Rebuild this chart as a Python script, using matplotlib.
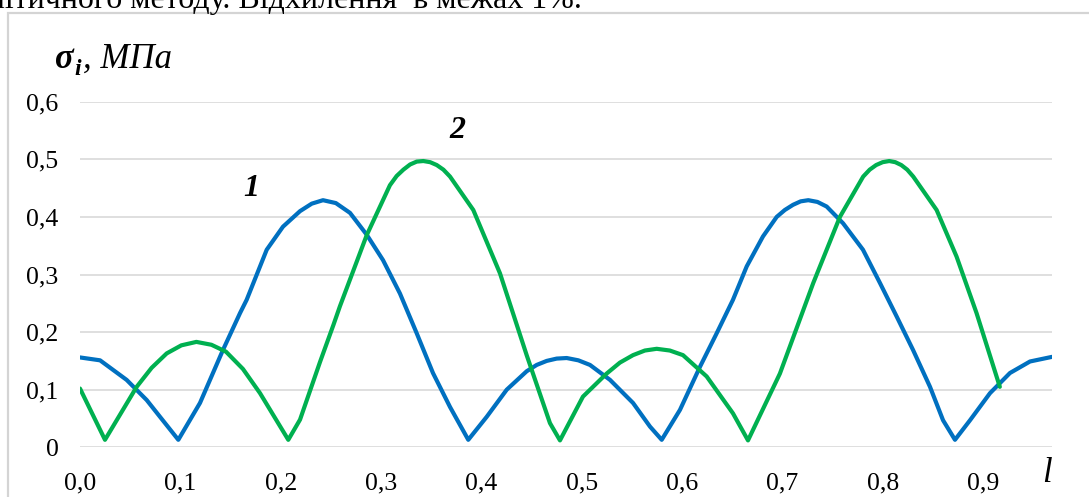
"""
Stress intensity sigma_i along the length l for two cases (1 and 2).
Excel-like line chart redrawn with matplotlib.
"""

# Import necessary libraries
import matplotlib.pyplot as plt  # Matplotlib for plotting
from matplotlib.patches import Rectangle

# Curve 1 (blue) - position l and stress, MPa
l_1 = [0.0, 0.020, 0.0465, 0.0665, 0.0797, 0.098, 0.1196, 0.1425, 0.1595, 0.1661,
       0.1861, 0.2023, 0.2193, 0.231, 0.2422, 0.255, 0.2691, 0.2858, 0.302, 0.3189,
       0.3356, 0.3518, 0.3688, 0.387, 0.4054, 0.4253, 0.4452, 0.4552, 0.4652, 0.4751,
       0.4851, 0.4967, 0.5083, 0.5283, 0.5512, 0.5681, 0.5798, 0.598, 0.618, 0.6346,
       0.6508, 0.6645, 0.6807, 0.6944, 0.7025, 0.7107, 0.7183, 0.7259, 0.735, 0.7442,
       0.7605, 0.7804, 0.7974, 0.814, 0.8303, 0.8472, 0.8602, 0.8721, 0.8871, 0.907,
       0.9269, 0.9469, 0.9688]
sigma_1 = [0.156, 0.151, 0.117, 0.082, 0.053, 0.013, 0.077, 0.169, 0.233, 0.256,
           0.343, 0.383, 0.410, 0.423, 0.429, 0.424, 0.407, 0.369, 0.325, 0.267,
           0.198, 0.129, 0.070, 0.013, 0.053, 0.100, 0.132, 0.143, 0.150, 0.154,
           0.155, 0.151, 0.143, 0.117, 0.077, 0.036, 0.013, 0.065, 0.140, 0.198,
           0.256, 0.314, 0.366, 0.400, 0.412, 0.421, 0.427, 0.429, 0.426, 0.418,
           0.389, 0.343, 0.285, 0.227, 0.169, 0.105, 0.047, 0.013, 0.047, 0.094,
           0.129, 0.149, 0.157]

# Curve 2 (green)
l_2 = [0.0, 0.0249, 0.0565, 0.0714, 0.0864, 0.101, 0.116, 0.131, 0.1455, 0.1624,
       0.1794, 0.2076, 0.2193, 0.2392, 0.2525, 0.2591, 0.2857, 0.3089, 0.3156, 0.3223,
       0.329, 0.3356, 0.3422, 0.349, 0.3556, 0.3622, 0.3688, 0.392, 0.4186, 0.4452,
       0.4684, 0.4784, 0.5013, 0.5249, 0.5381, 0.5512, 0.563, 0.5748, 0.5879, 0.601,
       0.6246, 0.6508, 0.6658, 0.6976, 0.7308, 0.7574, 0.7806, 0.7871, 0.7935, 0.8, 
       0.8066, 0.8126, 0.8186, 0.8245, 0.8305, 0.8538, 0.8737, 0.8936, 0.9168]
sigma_2 = [0.102, 0.013, 0.105, 0.138, 0.163, 0.177, 0.183, 0.178, 0.166, 0.136,
           0.094, 0.013, 0.048, 0.148, 0.212, 0.245, 0.368, 0.455, 0.471, 0.482,
           0.491, 0.496, 0.497, 0.495, 0.490, 0.482, 0.470, 0.412, 0.302, 0.160,
           0.042, 0.012, 0.088, 0.128, 0.147, 0.160, 0.168, 0.171, 0.168, 0.160,
           0.123, 0.059, 0.012, 0.128, 0.285, 0.400, 0.470, 0.482, 0.490, 0.495,
           0.497, 0.495, 0.490, 0.482, 0.470, 0.412, 0.331, 0.233, 0.105]

# Axis ticks and labels (comma as decimal separator)
x_ticks = [0.0, 0.1, 0.2, 0.3, 0.4, 0.5, 0.6, 0.7, 0.8, 0.9]
x_tick_labels = ['0,0', '0,1', '0,2', '0,3', '0,4', '0,5', '0,6', '0,7', '0,8', '0,9']
y_ticks = [0.0, 0.1, 0.2, 0.3, 0.4, 0.5, 0.6]
y_tick_labels = ['0', '0,1', '0,2', '0,3', '0,4', '0,5', '0,6']

serif = ['Liberation Serif', 'DejaVu Serif']
W, H = 1089, 497

# Create the figure and the plot area
fig = plt.figure(figsize=(W / 100, H / 100), dpi=100)
ax = fig.add_axes([80 / W, 49.7 / H, 972 / W, 345.6 / H])

# Frame around the chart (cut by the page edge on the right and bottom)
fig.patches.append(Rectangle((8 / W, -0.2), 1.2, 1.2 - 13 / H, transform=fig.transFigure,
                             fill=False, edgecolor='#D4D4D4', linewidth=1.6))

# Line of text above the chart, only its lower half is on the picture
fig.text(582 / W, 1 - 8 / H, 'аналітичного методу. Відхилення  в межах 1%.',
         ha='right', va='baseline', fontsize=23, family=serif)

# Plot both curves
ax.plot(l_1, sigma_1, color='#0070C0', linewidth=3, solid_capstyle='round',
        solid_joinstyle='round')
ax.plot(l_2, sigma_2, color='#00B050', linewidth=3, solid_capstyle='round',
        solid_joinstyle='round')

# Axis limits, ticks and grid
ax.set_xlim(0, 0.9688)
ax.set_ylim(0, 0.6)
ax.set_xticks(x_ticks, x_tick_labels, family=serif, fontsize=18.5)
ax.set_yticks(y_ticks, y_tick_labels, family=serif, fontsize=18.5)
ax.tick_params(axis='both', length=0)
ax.tick_params(axis='x', pad=18)
ax.tick_params(axis='y', pad=15.5)
ax.grid(axis='y', color='#D9D9D9', linewidth=1.2)
ax.set_axisbelow(True)
for spine in ax.spines.values():
    spine.set_visible(False)

# Curve numbers
ax.text(0.171, 0.450, '1', fontsize=23, style='italic', weight='bold',
        family=serif, ha='center', va='center')
ax.text(0.376, 0.550, '2', fontsize=23, style='italic', weight='bold',
        family=serif, ha='center', va='center')

# Axis titles
fig.text(55 / W, 1 - 68 / H, 'σ', fontsize=25, style='italic', weight='bold',
         family=serif, va='baseline')
fig.text(74 / W, 1 - 75 / H, 'i', fontsize=17, style='italic', weight='bold',
         family=serif, va='baseline')
fig.text(83 / W, 1 - 68 / H, ', МПа', fontsize=25, style='italic',
         family=serif, va='baseline')
fig.text(1047 / W, 1 - 474 / H, 'l', fontsize=25, style='italic',
         family=serif, ha='center', va='center')

# Save the figure
plt.savefig('out.png', dpi=100)
